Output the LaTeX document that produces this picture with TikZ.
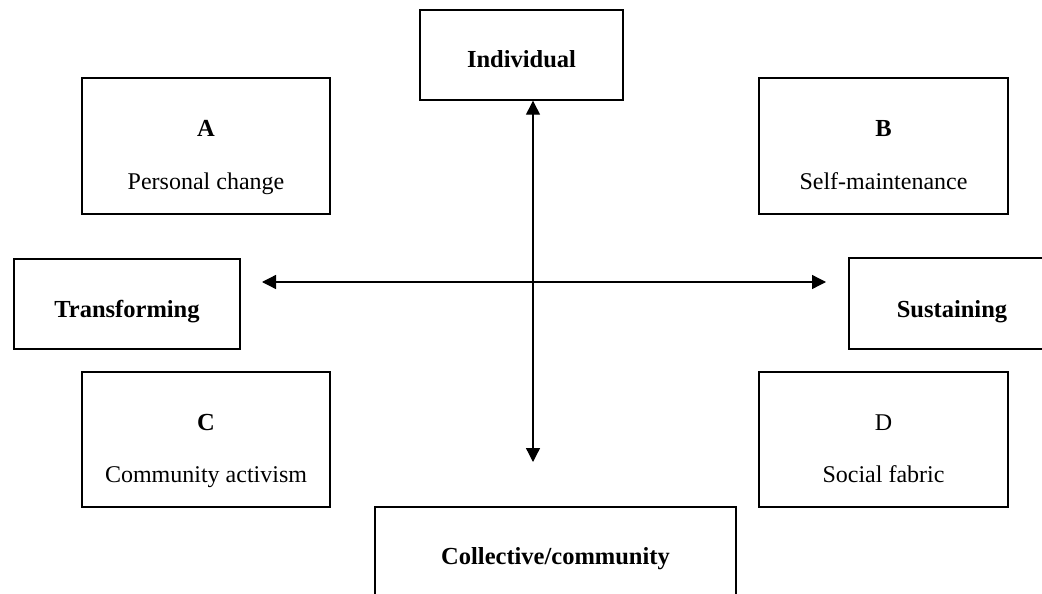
\documentclass[tikz,border=0pt]{standalone}
\usepackage{fontspec}
\setmainfont{Liberation Serif}
\usetikzlibrary{arrows.meta}
\begin{document}
\begin{tikzpicture}[x=1pt,y=-1pt,
  box/.style={draw=black,line width=1.4pt,rectangle,inner sep=0pt},
  lbl/.style={anchor=base,font=\fontsize{24}{28}\selectfont,inner sep=0pt},
  blbl/.style={lbl,font=\fontsize{24.5}{28}\selectfont\bfseries},
  axis/.style={line width=1.3pt,{Triangle[length=14pt,width=14pt]}-{Triangle[length=14pt,width=14pt]}}]
\useasboundingbox (0,0) rectangle (1042,594);
\clip (0,0) rectangle (1042,594);
% boxes
\node[box,minimum width=203pt,minimum height=90pt] (ind) at (521.5,55) {};
\node[box,minimum width=248pt,minimum height=136pt] (A) at (206,146) {};
\node[box,minimum width=249pt,minimum height=136pt] (B) at (883.5,146) {};
\node[box,minimum width=248pt,minimum height=135pt] (C) at (206,439.5) {};
\node[box,minimum width=249pt,minimum height=135pt] (D) at (883.5,439.5) {};
\node[box,minimum width=226pt,minimum height=90pt] (tr) at (127,304) {};
\node[box,minimum width=206pt,minimum height=91pt] (su) at (952,303.5) {};
\node[box,minimum width=361pt,minimum height=110pt] (co) at (555.5,562) {};
% texts
\node[blbl] (indt) at (521.5,68) {Individual};
\node[blbl] (At) at (206,136) {A};
\node[lbl] (Ad) at (206,189) {Personal change};
\node[blbl] (Bt) at (883.5,136) {B};
\node[lbl] (Bd) at (883.5,189) {Self-maintenance};
\node[blbl] (Ct) at (206,430) {C};
\node[lbl] (Cd) at (206,482) {Community activism};
\node[lbl] (Dt) at (883.5,430) {D};
\node[lbl] (Dd) at (883.5,482) {Social fabric};
\node[blbl] (trt) at (127,317) {Transforming};
\node[blbl] (sut) at (952,317) {Sustaining};
\node[blbl] (cot) at (555.5,564) {Collective/community};
% axes
\coordinate (vtop) at (533,100.7);
\coordinate (vbot) at (533,462);
\coordinate (hl) at (262,282);
\coordinate (hr) at (826,282);
\draw[axis] (vtop) -- (vbot);
\draw[axis] (hl) -- (hr);
\end{tikzpicture}
\end{document}
